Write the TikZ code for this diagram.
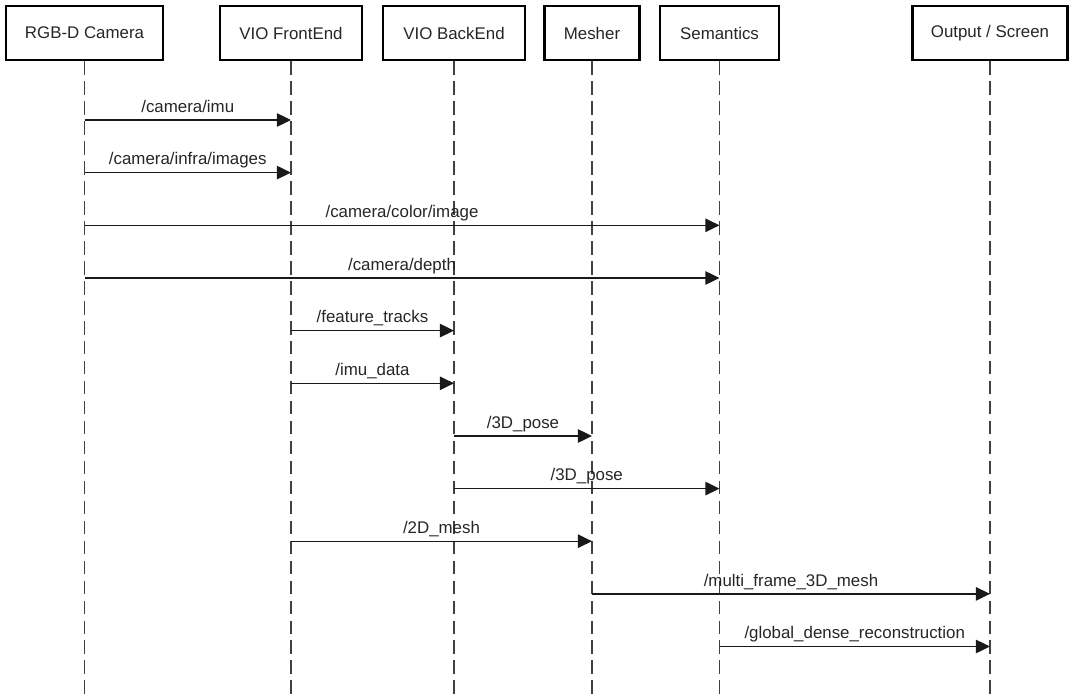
\documentclass[tikz,border=0pt]{standalone}
\usepackage{fontspec}
\setmainfont{Liberation Sans}
\usetikzlibrary{arrows.meta}

\begin{document}
\begin{tikzpicture}[x=0.025cm, y=-0.025cm,
	every node/.style={font=\fontsize{12}{14}\selectfont, text=black!85},
	actor/.style={draw, line width=2pt, minimum height=1.35cm, inner sep=0pt},
	lifeline/.style={draw=black!75, line width=1pt, dash pattern=on 9.6pt off 4.6pt},
	msg/.style={draw=black!90, line width=1pt, -{Triangle[length=10pt, width=9.5pt]}},
	lbl/.style={anchor=base, yshift=5.5pt}]
	\useasboundingbox (0,0) rectangle (1074,697);
	% actors
	\node[actor, minimum width=3.925cm] (cam) at (84.5,33) {RGB-D Camera};
	\node[actor, minimum width=3.55cm] (front) at (291,33) {VIO FrontEnd};
	\node[actor, minimum width=3.55cm] (back) at (454,33) {VIO BackEnd};
	\node[actor, minimum width=2.375cm] (mesher) at (592,33) {Mesher};
	\node[actor, minimum width=2.975cm] (sem) at (719.5,33) {Semantics};
	\node[actor, minimum width=3.875cm] (out) at (990,33) {Output / Screen};
	% lifelines
	\draw[lifeline] (cam.south) -- (cam.south |- 0,697);
	\draw[lifeline] (front.south) -- (front.south |- 0,697);
	\draw[lifeline] (back.south) -- (back.south |- 0,697);
	\draw[lifeline] (mesher.south) -- (mesher.south |- 0,697);
	\draw[lifeline] (sem.south) -- (sem.south |- 0,697);
	\draw[lifeline] (out.south) -- (out.south |- 0,697);
	% camera topics
	\draw[msg] (cam |- 0,120) -- node[lbl] {/camera/imu} (front |- 0,120);
	\draw[msg] (cam |- 0,172.6) -- node[lbl] {/camera/infra/images} (front |- 0,172.6);
	\draw[msg] (cam |- 0,225.3) -- node[lbl] {/camera/color/image} (sem |- 0,225.3);
	\draw[msg] (cam |- 0,278) -- node[lbl] {/camera/depth} (sem |- 0,278);
	% frontend topics
	\draw[msg] (front |- 0,330.6) -- node[lbl] {/feature\_tracks} (back |- 0,330.6);
	\draw[msg] (front |- 0,383.3) -- node[lbl] {/imu\_data} (back |- 0,383.3);
	% backend topics
	\draw[msg] (back |- 0,436) -- node[lbl] {/3D\_pose} (mesher |- 0,436);
	\draw[msg] (back |- 0,488.6) -- node[lbl] {/3D\_pose} (sem |- 0,488.6);
	\draw[msg] (front |- 0,541.2) -- node[lbl] {/2D\_mesh} (mesher |- 0,541.2);
	% outputs
	\draw[msg] (mesher |- 0,593.9) -- node[lbl] {/multi\_frame\_3D\_mesh} (out |- 0,593.9);
	\draw[msg] (sem |- 0,646.5) -- node[lbl] {/global\_dense\_reconstruction} (out |- 0,646.5);
\end{tikzpicture}
\end{document}
